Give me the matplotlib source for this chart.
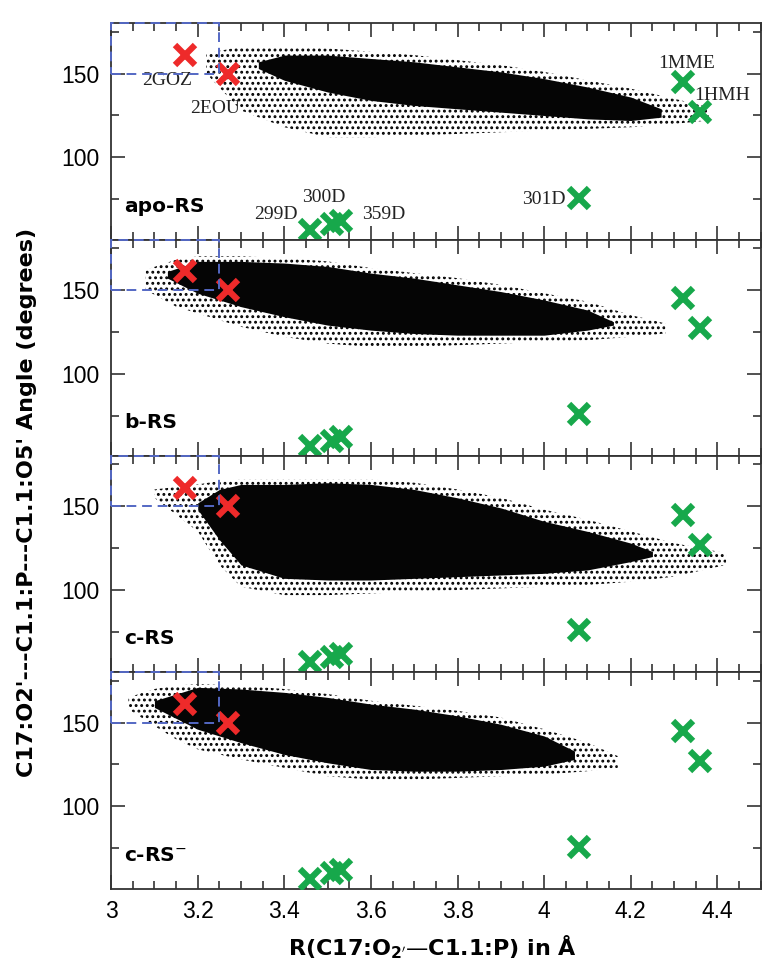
import numpy as np
import matplotlib
matplotlib.use("Agg")
import matplotlib.pyplot as plt
from matplotlib.patches import Rectangle
from matplotlib.ticker import MultipleLocator

plt.rcParams['font.family'] = ['Liberation Sans', 'DejaVu Sans']
plt.rcParams['hatch.linewidth'] = 1.3

# ---------- data ----------

panel_names = ['apo-RS', 'b-RS', 'c-RS', 'c-RS$^{-}$']

# crystal structures (same in every panel)
red_x = [3.17, 3.27]
red_y = [161, 150]
green_x = [4.32, 4.36, 4.08, 3.46, 3.51, 3.53]
green_y = [145, 127, 76, 57, 60, 62]

pdb_labels = ['2GOZ', '2EOU', '1MME', '1HMH', '301D', '299D', '300D', '359D']
pdb_label_x = [3.13, 3.24, 4.33, 4.41, 4.00, 3.38, 3.49, 3.63]
pdb_label_y = [146, 129, 156, 137, 75, 66, 76, 66]

# cloud envelopes per panel: sparse outer band and dense core
apo_x = [3.22, 3.30, 3.40, 3.50, 3.60, 3.70, 3.80, 3.90, 4.00, 4.10, 4.20, 4.30, 4.38]
apo_hi = [162, 166, 166, 165, 163, 161, 158, 155, 151, 146, 141, 135, 130]
apo_lo = [150, 128, 118, 112, 112, 113, 114, 115, 116, 117, 118, 120, 122]
apo_core_x = [3.34, 3.40, 3.50, 3.60, 3.70, 3.80, 3.90, 4.00, 4.10, 4.20, 4.27]
apo_core_hi = [157, 161, 161, 159, 157, 154, 151, 147, 142, 136, 129]
apo_core_lo = [153, 146, 139, 134, 131, 129, 127, 125, 123, 122, 124]

b_x = [3.08, 3.15, 3.20, 3.30, 3.40, 3.50, 3.60, 3.70, 3.80, 3.90, 4.00, 4.10, 4.20, 4.28]
b_hi = [162, 168, 170, 170, 169, 167, 163, 160, 157, 153, 148, 143, 135, 130]
b_lo = [150, 140, 136, 128, 122, 118, 116, 116, 117, 118, 119, 120, 122, 124]
b_core_x = [3.13, 3.20, 3.30, 3.40, 3.50, 3.60, 3.70, 3.80, 3.90, 4.00, 4.10, 4.16]
b_core_hi = [161, 167, 167, 166, 164, 160, 157, 153, 149, 144, 138, 131]
b_core_lo = [157, 148, 140, 134, 129, 126, 124, 123, 123, 123, 126, 129]

c_x = [3.10, 3.20, 3.25, 3.30, 3.40, 3.50, 3.60, 3.70, 3.80, 3.90, 4.00, 4.10, 4.20, 4.30, 4.42]
c_hi = [160, 163, 165, 166, 166, 166, 166, 164, 160, 155, 148, 142, 135, 128, 122]
c_lo = [155, 135, 115, 102, 97, 97, 98, 99, 100, 101, 102, 103, 105, 108, 115]
c_core_x = [3.20, 3.25, 3.30, 3.40, 3.50, 3.60, 3.70, 3.80, 3.90, 4.00, 4.10, 4.20, 4.25]
c_core_hi = [152, 160, 163, 163, 164, 163, 160, 155, 149, 141, 135, 128, 123]
c_core_lo = [148, 130, 115, 107, 106, 106, 107, 108, 109, 110, 112, 117, 120]

cm_x = [3.04, 3.10, 3.15, 3.20, 3.30, 3.40, 3.50, 3.60, 3.70, 3.80, 3.90, 4.00, 4.10, 4.17]
cm_hi = [165, 170, 172, 173, 172, 170, 167, 163, 160, 157, 153, 146, 138, 130]
cm_lo = [158, 148, 140, 134, 128, 123, 118, 116, 116, 117, 118, 119, 121, 123]
cm_core_x = [3.10, 3.20, 3.30, 3.40, 3.50, 3.60, 3.70, 3.80, 3.90, 4.00, 4.07]
cm_core_hi = [163, 171, 170, 168, 165, 161, 158, 154, 149, 142, 133]
cm_core_lo = [159, 146, 138, 131, 126, 122, 121, 121, 122, 124, 128]

clouds = [
    (apo_x, apo_hi, apo_lo, apo_core_x, apo_core_hi, apo_core_lo),
    (b_x, b_hi, b_lo, b_core_x, b_core_hi, b_core_lo),
    (c_x, c_hi, c_lo, c_core_x, c_core_hi, c_core_lo),
    (cm_x, cm_hi, cm_lo, cm_core_x, cm_core_hi, cm_core_lo),
]

RED = '#ee2a2a'
GREEN = '#17a84b'
BLUE = '#5468c4'

fig, axes = plt.subplots(4, 1, figsize=(7.77, 9.69), dpi=100, sharex=True)
fig.subplots_adjust(left=0.143, right=0.979, top=0.976, bottom=0.083, hspace=0)

for i, ax in enumerate(axes):
    x, hi, lo, cx, chi, clo = clouds[i]
    # sparse scatter band
    ax.fill_between(x, lo, hi, facecolor='none', edgecolor='black',
                    hatch='...', linewidth=0, zorder=1)
    # dense core
    ax.fill_between(cx, clo, chi, facecolor='#050505', edgecolor='#050505',
                    linewidth=0, zorder=2)

    ax.add_patch(Rectangle((3.0, 150), 0.25, 30, fill=False, edgecolor=BLUE,
                           linestyle=(0, (5, 3)), linewidth=1.4,
                           clip_on=False, zorder=5))

    ax.plot(red_x, red_y, 'x', color=RED, ms=15, mew=4.5, zorder=4)
    ax.plot(green_x, green_y, 'x', color=GREEN, ms=15, mew=4.5, zorder=4)

    ax.text(3.03, 71, panel_names[i], family='DejaVu Sans', fontsize=14.5,
            fontweight='bold', ha='left', va='center')

    if i == 0:
        for lab, lx, ly in zip(pdb_labels, pdb_label_x, pdb_label_y):
            ax.text(lx, ly, lab, family='Liberation Serif', fontsize=14,
                    ha='center', va='center', color='#222222')

    ax.set_xlim(3.0, 4.5)
    ax.set_ylim(51, 180)
    ax.xaxis.set_major_locator(MultipleLocator(0.2))
    ax.xaxis.set_minor_locator(MultipleLocator(0.05))
    ax.yaxis.set_major_locator(MultipleLocator(50))
    ax.yaxis.set_minor_locator(MultipleLocator(25))
    ax.tick_params(which='both', direction='in', top=True, right=True,
                   labelsize=16.5, width=1.2, color='#333333')
    ax.tick_params(which='major', length=10, pad=8)
    ax.tick_params(which='minor', length=6)
    ax.set_yticks([100, 150])
    for sp in ax.spines.values():
        sp.set_linewidth(1.3)
        sp.set_color('#333333')

axes[-1].set_xticks([3, 3.2, 3.4, 3.6, 3.8, 4, 4.2, 4.4])
axes[-1].set_xticklabels(['3', '3.2', '3.4', '3.6', '3.8', '4', '4.2', '4.4'])

fig.text(0.035, 0.481, "C17:O2'---C1.1:P---C1.1:O5' Angle (degrees)",
         family='DejaVu Sans', rotation=90, ha='center', va='center',
         fontsize=16, fontweight='bold')
fig.text(0.557, 0.022, "R(C17:O$_{\\mathbf{2'}}$\u2014C1.1:P) in \u00c5",
         family='DejaVu Sans', ha='center', va='center', fontsize=16,
         fontweight='bold')

fig.savefig('out.png', dpi=100)
